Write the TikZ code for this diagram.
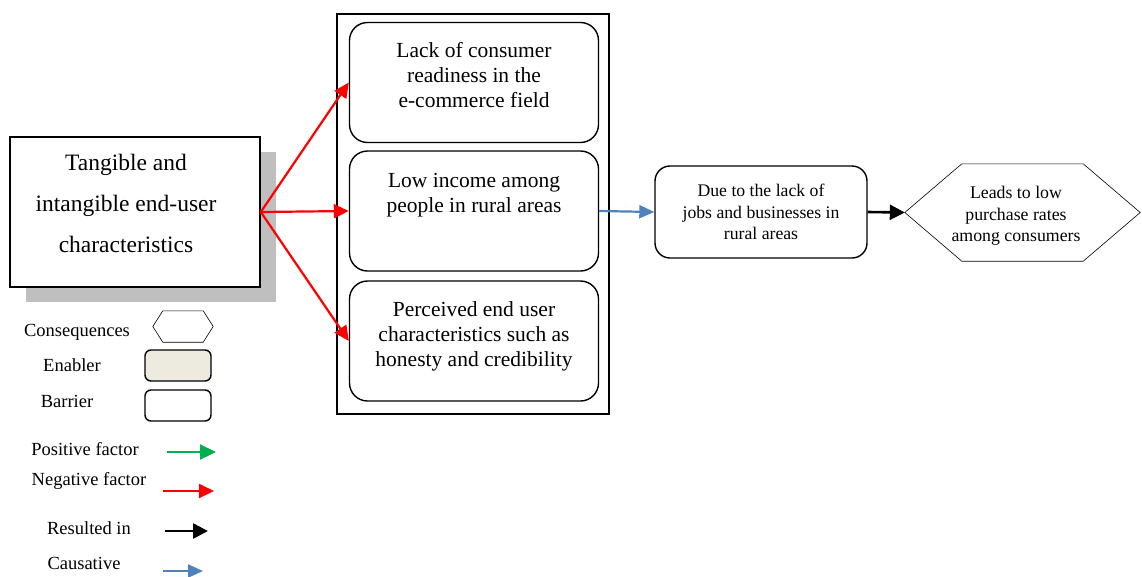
\documentclass[tikz,border=0pt]{standalone}
\usepackage{fontspec}
\setmainfont{Liberation Serif}
\usetikzlibrary{arrows.meta,shadows}

\definecolor{negred}{RGB}{255,0,0}
\definecolor{posgreen}{RGB}{0,176,80}
\definecolor{causeblue}{RGB}{79,129,189}
\definecolor{enablerfill}{RGB}{237,235,224}
\definecolor{shadowgray}{RGB}{191,191,191}

\tikzset{
  barrier/.style={draw, rounded corners=18pt, line width=1.4pt, align=center,
    minimum width=249pt, minimum height=120pt, font=\fontsize{21.5}{25}\selectfont},
  conseq/.style={inner sep=0pt, align=center},
  hexaline/.style={line width=0.6pt},
  negarrow/.style={draw=negred, line width=2.2pt, -{Triangle[length=15pt,width=14pt]}},
  posarrow/.style={draw=posgreen, line width=2.2pt, -{Triangle[length=16pt,width=15pt]}},
  resarrow/.style={draw=black, line width=2.6pt, -{Triangle[length=15pt,width=15pt]}},
  causarrow/.style={draw=causeblue, line width=2.2pt, -{Triangle[length=15pt,width=13pt]}},
  legtext/.style={font=\fontsize{18.5}{22}\selectfont}
}

\begin{document}
\begin{tikzpicture}[x=1pt, y=1pt]
  \useasboundingbox (0,0) rectangle (1142,-576);

  % Caractéristiques de l'utilisateur
  \node[draw, line width=1.6pt, fill=white, minimum width=250pt, minimum height=150pt,
    font=\fontsize{23.5}{41}\selectfont, text depth=30pt,
    drop shadow={shadow xshift=16pt, shadow yshift=-15pt, fill=shadowgray, opacity=1}]
    (user) at (135,-212)
    {\begin{tabular}[b]{@{}c@{\hspace{18pt}}}Tangible and\\intangible end-user\\characteristics\end{tabular}};

  % Cadre des barrières
  \node[draw, line width=1.2pt, minimum width=272pt, minimum height=400pt] (frame) at (473,-214) {};
  \node[barrier, text depth=16pt] (ready) at (474,-82.5) {Lack of consumer\\readiness in the\\e-commerce field};
  \node[barrier, text depth=36pt] (income) at (474,-211) {Low income among\\people in rural areas};
  \node[barrier, text depth=14pt] (honest) at (474,-341) {Perceived end user\\characteristics such as\\honesty and credibility};

  \node[draw, rounded corners=15pt, line width=1.4pt, minimum width=212pt, minimum height=92pt,
    align=center, font=\fontsize{17.7}{21.5}\selectfont, text depth=-3pt]
    (jobs) at (761,-212) {Due to the lack of\\jobs and businesses in\\rural areas};

  % Conséquence (hexagone)
  \node[conseq, minimum width=235pt, minimum height=97pt, text depth=0pt,
    font=\fontsize{17.8}{21.5}\selectfont]
    (purchase) at (1022.5,-212.5)
    {\begin{tabular}[b]{@{}c@{\hspace{13pt}}}Leads to low\\purchase rates\\among consumers\end{tabular}};
  \draw[hexaline] (purchase.west) -- ([xshift=57pt]purchase.north west) -- ([xshift=-57pt]purchase.north east)
    -- (purchase.east) -- ([xshift=-57pt]purchase.south east) -- ([xshift=57pt]purchase.south west) -- cycle;

  % Flèches entre les blocs
  \path (user.east) edge[negarrow] (ready.west);
  \path (user.east) edge[negarrow] (income.west);
  \path (user.east) edge[negarrow] (honest.west);
  \path (income.east) edge[causarrow] (jobs.west);
  \path (jobs.east) edge[resarrow] (purchase.west);

  % Légende
  \node[legtext] (l-cons) at (77,-332) {Consequences};
  \node[conseq, minimum width=60pt, minimum height=31pt] (s-cons) at (183,-326.5) {};
  \draw[hexaline] (s-cons.west) -- ([xshift=10pt]s-cons.north west) -- ([xshift=-10pt]s-cons.north east)
    -- (s-cons.east) -- ([xshift=-10pt]s-cons.south east) -- ([xshift=10pt]s-cons.south west) -- cycle;
  \node[legtext] (l-enab) at (72,-365) {Enabler};
  \node[draw, fill=enablerfill, rounded corners=6pt, line width=1.4pt, minimum width=66pt, minimum height=31pt] (s-enab) at (178,-365.5) {};
  \node[legtext] (l-barr) at (67,-401) {Barrier};
  \node[draw, rounded corners=6pt, line width=1.4pt, minimum width=66pt, minimum height=31pt] (s-barr) at (178,-405.5) {};

  \node[legtext] (l-pos) at (85,-449) {Positive factor};
  \draw[posarrow] (167,-452) -- (216,-452);
  \node[legtext] (l-neg) at (89,-481) {Negative factor};
  \draw[negarrow] (163,-491) -- (214,-491);
  \node[legtext] (l-res) at (89,-528) {Resulted in};
  \draw[resarrow] (165,-531) -- (208,-531);
  \node[legtext] (l-caus) at (84,-563) {Causative};
  \draw[causarrow] (163,-571) -- (203,-571);
\end{tikzpicture}
\end{document}
